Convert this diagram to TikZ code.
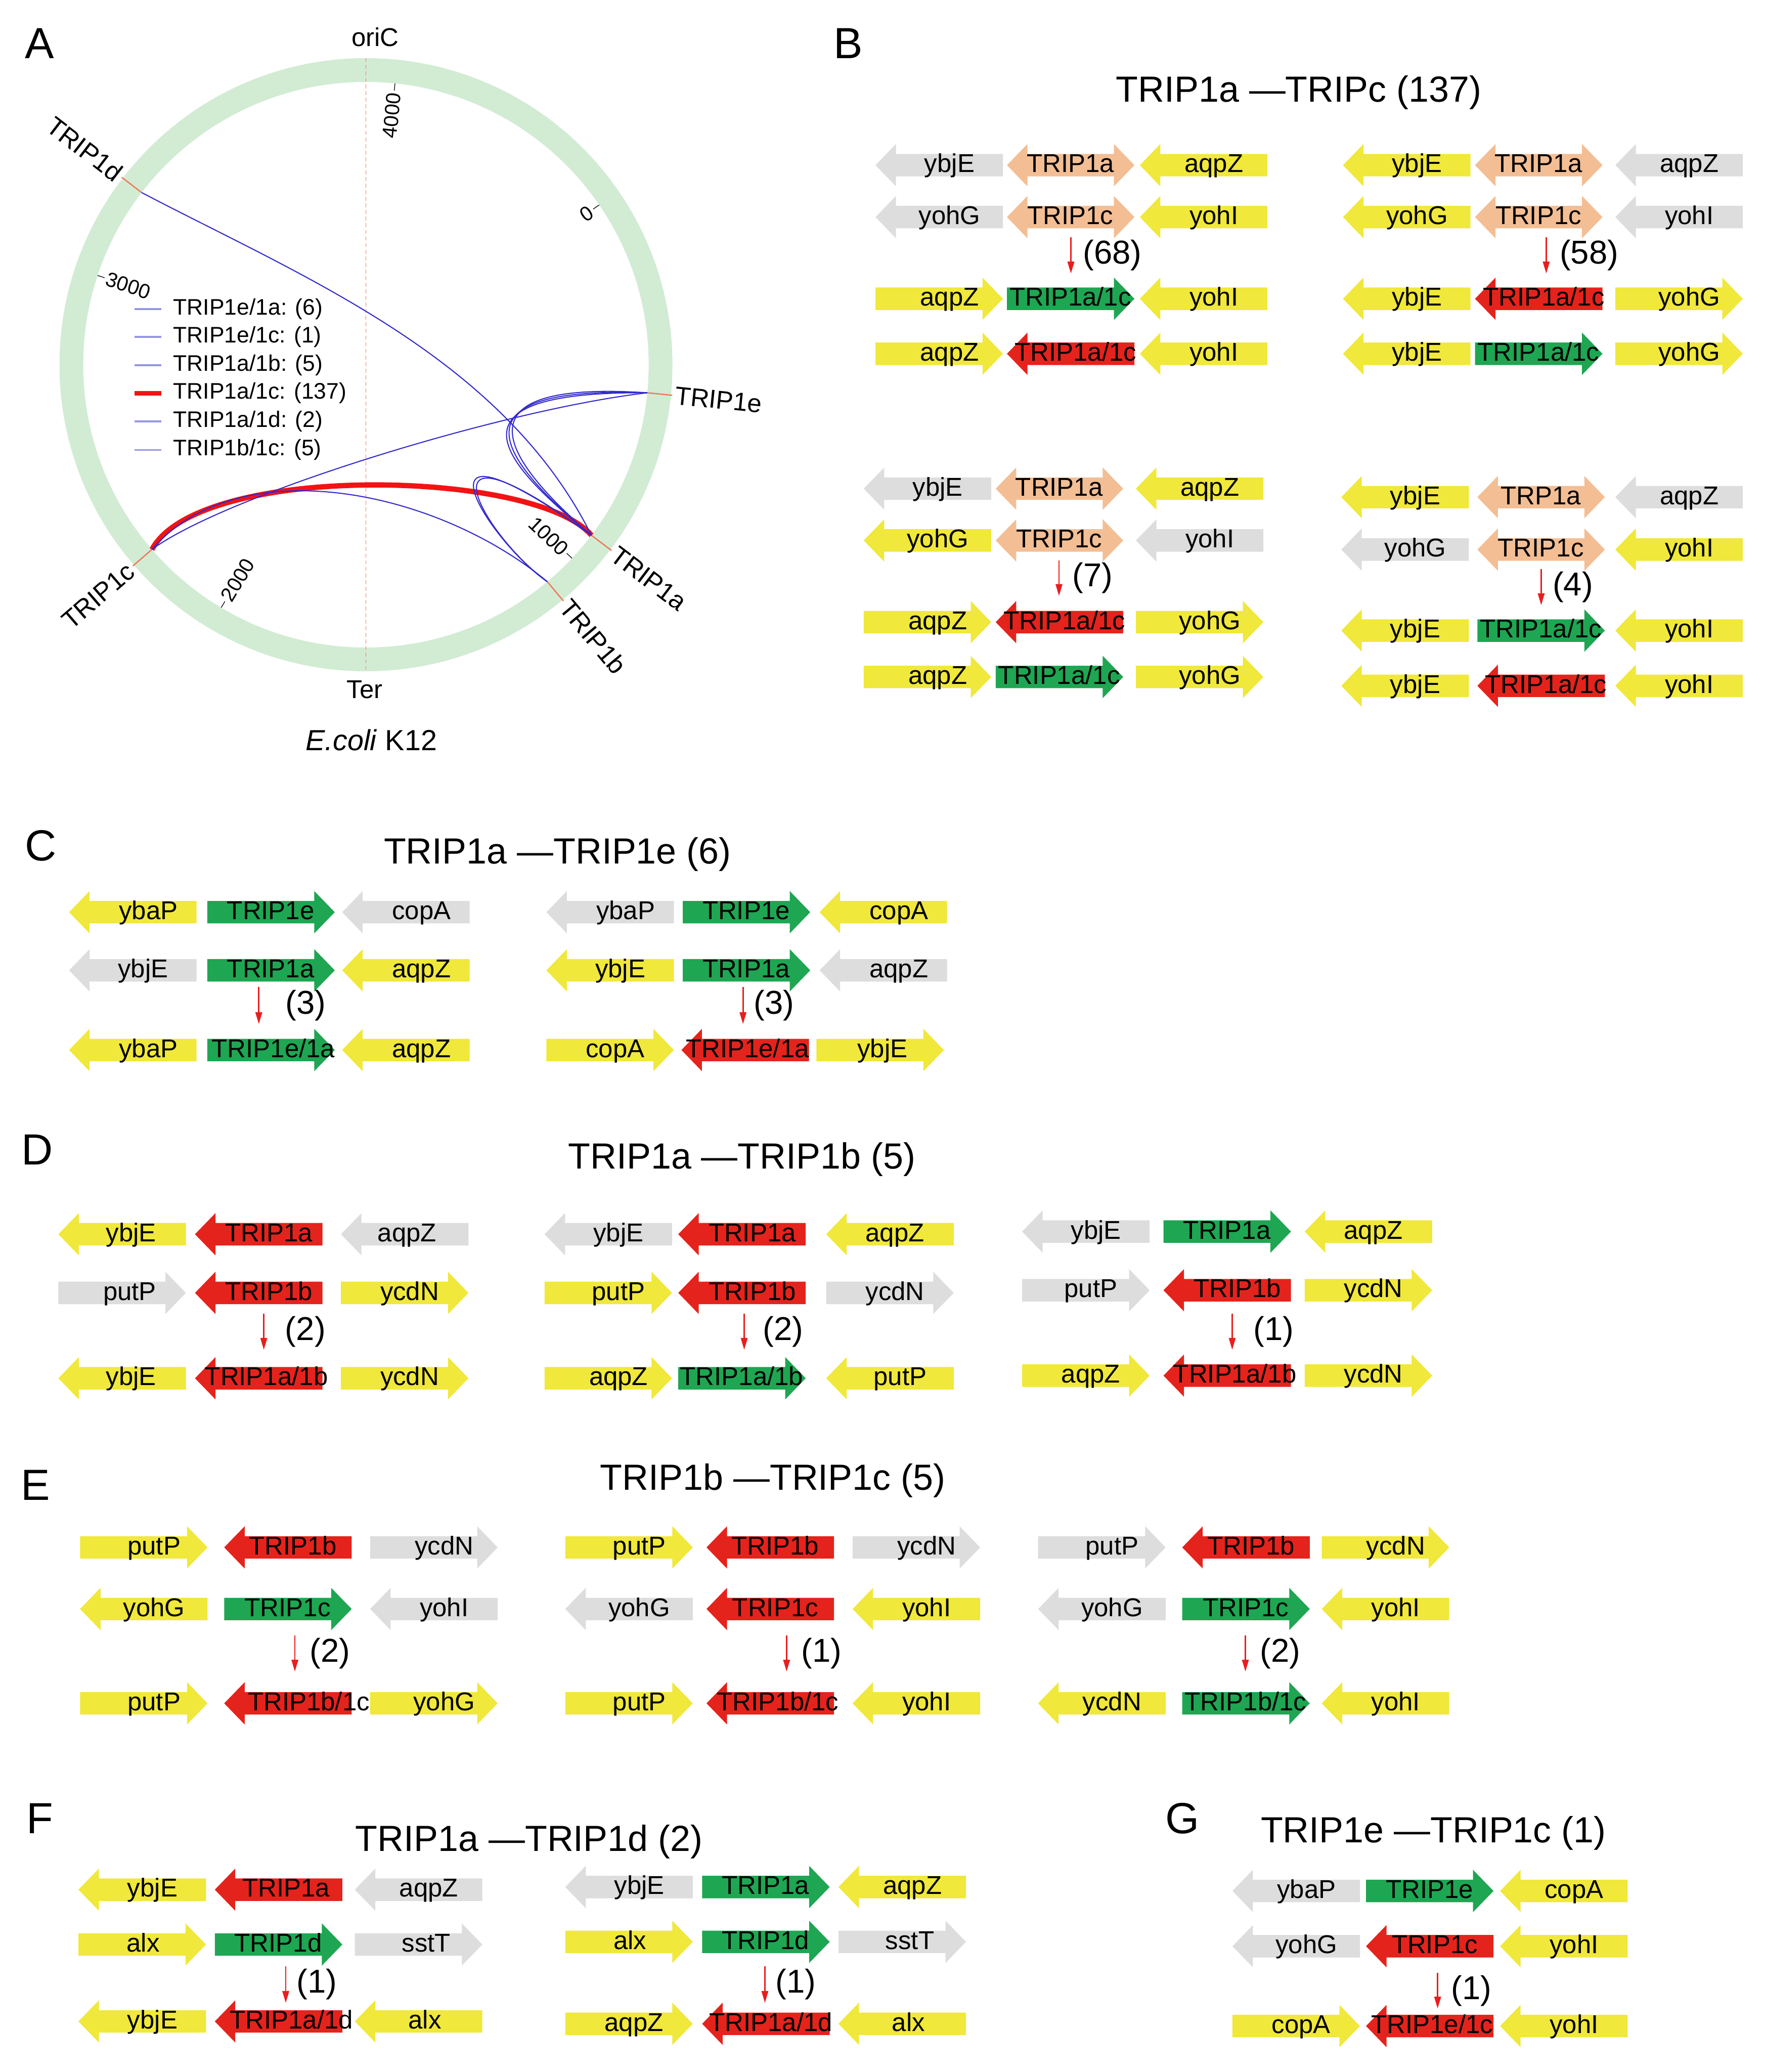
\documentclass[tikz,border=0pt]{standalone}
\usepackage{fontspec}
\setmainfont{Liberation Sans}
\usetikzlibrary{arrows.meta}
\definecolor{geneyel}{RGB}{240,232,58}
\definecolor{genegry}{RGB}{221,221,221}
\definecolor{geneorg}{RGB}{243,190,148}
\definecolor{genegrn}{RGB}{30,166,82}
\definecolor{genered}{RGB}{228,35,28}
\definecolor{ringgrn}{RGB}{210,236,212}
\definecolor{tickorg}{RGB}{238,125,95}
\definecolor{chordblu}{RGB}{50,40,205}
\definecolor{legblu}{RGB}{150,150,228}
\definecolor{hotred}{RGB}{240,20,20}
\definecolor{recred}{RGB}{232,30,30}
\tikzset{
  gyel/.style    = {fill=geneyel},
  ggry/.style    = {fill=genegry},
  gorg/.style    = {fill=geneorg},
  ggrn/.style    = {fill=genegrn},
  gred/.style    = {fill=genered},
  glabel/.style  = {inner sep=0pt, anchor=base, font=\fontsize{19.5}{21}\selectfont},
  cnt/.style     = {inner sep=0pt, anchor=west, font=\fontsize{25}{27}\selectfont},
  recarr/.style  = {draw=recred, line width=1.1pt, -{Triangle[length=9pt,width=5pt]}},
  ttl/.style     = {inner sep=0pt, anchor=base, font=\fontsize{27.5}{30}\selectfont},
  panel/.style   = {inner sep=0pt, font=\fontsize{33}{36}\selectfont},
  ring/.style    = {draw=ringgrn, line width=18pt},
  oriter/.style  = {draw=tickorg, line width=0.6pt, dash pattern=on 3pt off 2pt},
  locus/.style   = {draw=tickorg, line width=1pt},
  locname/.style = {inner sep=0pt, font=\fontsize{19.5}{21}\selectfont},
  ticklab/.style = {inner sep=0pt, font=\fontsize{15.5}{17}\selectfont},
  tickln/.style  = {draw=black, line width=0.5pt},
  chord/.style   = {draw=chordblu, line width=0.8pt},
  hotchord/.style= {draw=hotred, line width=4pt},
  legline/.style = {draw=legblu, line width=1.5pt},
  legtext/.style = {inner sep=0pt, anchor=west, font=\fontsize{17}{19}\selectfont},
}
\newcounter{gn}
\newcounter{rc}
% gene arrow: x, y, L/R/B, fill, label offset, label
\newcommand{\gene}[6]{%
  \stepcounter{gn}%
  \if#3L\fill[#4] (#1,-#2) -- ++(15.5,16) -- ++(0,-7.5) -- ++(81,0) -- ++(0,-17)
    -- ++(-81,0) -- ++(0,-7.5) -- cycle;\fi
  \if#3R\fill[#4] (#1,-#2) ++(0,8.5) -- ++(81,0) -- ++(0,7.5) -- ++(15.5,-16)
    -- ++(-15.5,-16) -- ++(0,7.5) -- ++(-81,0) -- cycle;\fi
  \if#3B\fill[#4] (#1,-#2) -- ++(15.5,16) -- ++(0,-7.5) -- ++(65.5,0) -- ++(0,7.5)
    -- ++(15.5,-16) -- ++(-15.5,-16) -- ++(0,7.5) -- ++(-65.5,0) -- ++(0,-7.5) -- cycle;\fi
  \node[glabel] (g\arabic{gn}) at ({#1+#5},{-#2-5.5}) {#6};
}
\newcommand{\setslots}[3]{\def\slotA{#1}\def\slotB{#2}\def\slotC{#3}}
\newcommand{\generow}[4]{\gene{\slotA}{#1}#2\gene{\slotB}{#1}#3\gene{\slotC}{#1}#4}
% recombination arrow: x, top, bottom, gap, count
\newcommand{\recomb}[5]{%
  \stepcounter{rc}%
  \coordinate (r\arabic{rc}s) at (#1,-#2);
  \coordinate (r\arabic{rc}e) at (#1,-#3);
  \draw[recarr] (r\arabic{rc}s) -- (r\arabic{rc}e);
  \node[cnt] (r\arabic{rc}n) at ({#1+#4},{-(#2+#3)/2}) {#5};
}

\begin{document}
\begin{tikzpicture}[x=1pt, y=1pt]
  \fill[white] (0,0) rectangle (1336,-1568);
  \useasboundingbox (0,0) rectangle (1336,-1568);

  % panel letters
  \node[panel] (pa) at (30,-33)   {A};
  \node[panel] (pb) at (642,-33)  {B};
  \node[panel] (pc) at (31,-640)  {C};
  \node[panel] (pd) at (28,-870)  {D};
  \node[panel] (pe) at (27,-1124) {E};
  \node[panel] (pf) at (30,-1376) {F};
  \node[panel] (pg) at (895,-1376){G};

  % ---- A: genome circle
  \begin{scope}[shift={(277,-276)}]
    \draw[ring] (0,0) circle[radius=223pt];
    \draw[oriter] (0,232) -- (0,-232);
    \foreach \n/\a in {1a/-37.1, 1b/-50.1, 1c/220.8, 1d/142.5, 1e/-5.7}{
      \coordinate (p\n) at (\a:214);
      \draw[locus] (p\n) -- (\a:233);
    }
    \node[locname, anchor=west, rotate=-5.7]  (n1e) at (-5.7:235)  {TRIP1e};
    \node[locname, anchor=west, rotate=-37.1] (n1a) at (-37.1:235) {TRIP1a};
    \node[locname, anchor=west, rotate=-50.1] (n1b) at (-50.1:235) {TRIP1b};
    \node[locname, anchor=east, rotate=40.8]  (n1c) at (220.8:235) {TRIP1c};
    \node[locname, anchor=east, rotate=-37.5] (n1d) at (142.5:235) {TRIP1d};
    % kb ticks
    \foreach \a in {34.4, -43.2, -120.8, 161.6, 84.1}
      \draw[tickln] (\a:208.5) -- (\a:214);
    \foreach \a/\t in {34.4/0, -43.2/1000, 84.1/4000}
      \node[ticklab, anchor=east, rotate=\a] (t\t) at (\a:207) {\t};
    \foreach \a/\t in {-120.8/2000, 161.6/3000}
      \node[ticklab, anchor=west, rotate=\a+180] (t\t) at (\a:207) {\t};
    % links
    \draw[hotchord] (p1c) .. controls (-127,-74) and (128,-79) .. (p1a);
    \draw[chord] (p1c) .. controls (-107,-99) and (103,-34) .. (p1e);
    \draw[chord] (p1c) .. controls (-97,-64) and (53,-94) .. (p1b);
    \draw[chord] (p1d) .. controls (-47,66) and (103,6) .. (p1a);
    \draw[chord] (p1e) .. controls (63,-16) and (98,-69) .. (p1a);
    \draw[chord] (p1e) .. controls (73,-12) and (95,-64) .. (p1a);
    \draw[chord] (p1e) .. controls (53,-20) and (103,-74) .. (p1a);
    \draw[chord] (p1a) .. controls (23,-24) and (93,-134) .. (p1b);
    \draw[chord] (p1a) .. controls (33,-29) and (88,-129) .. (p1b);
  \end{scope}
  \node[locname] (ori) at (284,-28)  {oriC};
  \node[locname] (ter) at (276,-522) {Ter};
  \node[inner sep=0pt, font=\fontsize{22}{24}\selectfont] (eco) at (281,-560) {\textit{E.coli} K12};

  % legend
  \draw[legline] (102,-234) -- (122,-234);
  \node[legtext] (lg1) at (131,-234) {TRIP1e/1a: (6)};
  \draw[legline] (102,-255) -- (122,-255);
  \node[legtext] (lg2) at (131,-255) {TRIP1e/1c: (1)};
  \draw[legline] (102,-276.5) -- (122,-276.5);
  \node[legtext] (lg3) at (131,-276.5) {TRIP1a/1b: (5)};
  \draw[legline, draw=hotred, line width=3.5pt] (102,-297.5) -- (122,-297.5);
  \node[legtext] (lg4) at (131,-297.5) {TRIP1a/1c: (137)};
  \draw[legline] (102,-319) -- (122,-319);
  \node[legtext] (lg5) at (131,-319) {TRIP1a/1d: (2)};
  \draw[legline] (102,-340.5) -- (122,-340.5);
  \node[legtext] (lg6) at (131,-340.5) {TRIP1b/1c: (5)};

  % ---- B
  \node[ttl] (tb) at (983,-77) {TRIP1a —TRIPc (137)};
  \setslots{662.7}{762.2}{862.8}
  \generow{125}{{L}{ggry}{56}{ybjE}}{{B}{gorg}{48}{TRIP1a}}{{L}{gyel}{56}{aqpZ}}
  \generow{164.3}{{L}{ggry}{56}{yohG}}{{B}{gorg}{48}{TRIP1c}}{{L}{gyel}{56}{yohI}}
  \recomb{810.6}{179.5}{207}{9}{(68)}
  \generow{226.1}{{R}{gyel}{56}{aqpZ}}{{R}{ggrn}{48}{TRIP1a/1c}}{{L}{gyel}{56}{yohI}}
  \generow{267.7}{{R}{gyel}{56}{aqpZ}}{{L}{gred}{52}{TRIP1a/1c}}{{L}{gyel}{56}{yohI}}

  \setslots{1016.6}{1116.5}{1222.7}
  \generow{125}{{L}{gyel}{56}{ybjE}}{{B}{gorg}{48}{TRIP1a}}{{L}{ggry}{56}{aqpZ}}
  \generow{164.3}{{L}{gyel}{56}{yohG}}{{B}{gorg}{48}{TRIP1c}}{{L}{ggry}{56}{yohI}}
  \recomb{1170.4}{179.5}{207}{10}{(58)}
  \generow{226.1}{{L}{gyel}{56}{ybjE}}{{L}{gred}{52}{TRIP1a/1c}}{{R}{gyel}{56}{yohG}}
  \generow{267.7}{{L}{gyel}{56}{ybjE}}{{R}{ggrn}{48}{TRIP1a/1c}}{{R}{gyel}{56}{yohG}}

  \setslots{653.8}{753.7}{859.8}
  \generow{369.8}{{L}{ggry}{56}{ybjE}}{{B}{gorg}{48}{TRIP1a}}{{L}{gyel}{56}{aqpZ}}
  \generow{409}{{L}{gyel}{56}{yohG}}{{B}{gorg}{48}{TRIP1c}}{{L}{ggry}{56}{yohI}}
  \recomb{801.6}{424}{451}{10}{(7)}
  \generow{470.8}{{R}{gyel}{56}{aqpZ}}{{L}{gred}{52}{TRIP1a/1c}}{{R}{gyel}{56}{yohG}}
  \generow{512.3}{{R}{gyel}{56}{aqpZ}}{{R}{ggrn}{48}{TRIP1a/1c}}{{R}{gyel}{56}{yohG}}

  \setslots{1015.3}{1118.3}{1222.7}
  \generow{376.2}{{L}{gyel}{56}{ybjE}}{{B}{gorg}{48}{TRP1a}}{{L}{ggry}{56}{aqpZ}}
  \generow{415.9}{{L}{ggry}{56}{yohG}}{{B}{gorg}{48}{TRIP1c}}{{L}{gyel}{56}{yohI}}
  \recomb{1166.6}{430.5}{458}{8.5}{(4)}
  \generow{477.2}{{L}{gyel}{56}{ybjE}}{{R}{ggrn}{48}{TRIP1a/1c}}{{L}{gyel}{56}{yohI}}
  \generow{519}{{L}{gyel}{56}{ybjE}}{{L}{gred}{52}{TRIP1a/1c}}{{L}{gyel}{56}{yohI}}

  % ---- C
  \node[ttl] (tc) at (422,-653.6) {TRIP1a —TRIP1e (6)};
  \setslots{52.3}{156.9}{259}
  \generow{690.3}{{L}{gyel}{60}{ybaP}}{{R}{ggrn}{48}{TRIP1e}}{{L}{ggry}{60}{copA}}
  \generow{734.3}{{L}{ggry}{56}{ybjE}}{{R}{ggrn}{48}{TRIP1a}}{{L}{gyel}{60}{aqpZ}}
  \recomb{195.9}{747}{775}{20}{(3)}
  \generow{794.6}{{L}{gyel}{60}{ybaP}}{{R}{ggrn}{50}{TRIP1e/1a}}{{L}{gyel}{60}{aqpZ}}

  \setslots{413.6}{516.8}{620.4}
  \generow{690.3}{{L}{ggry}{60}{ybaP}}{{R}{ggrn}{48}{TRIP1e}}{{L}{gyel}{60}{copA}}
  \generow{734.3}{{L}{gyel}{56}{ybjE}}{{R}{ggrn}{48}{TRIP1a}}{{L}{ggry}{60}{aqpZ}}
  \recomb{562.4}{747}{775}{8}{(3)}
  \setslots{413.6}{515.8}{618}
  \generow{794.6}{{R}{gyel}{52}{copA}}{{L}{gred}{50}{TRIP1e/1a}}{{R}{gyel}{50}{ybjE}}

  % ---- D
  \node[ttl] (td) at (561.5,-884.3) {TRIP1a —TRIP1b (5)};
  \setslots{44.2}{147.6}{258.1}
  \generow{934}{{L}{gyel}{55}{ybjE}}{{L}{gred}{56}{TRIP1a}}{{L}{ggry}{50}{aqpZ}}
  \generow{978.4}{{R}{ggry}{54}{putP}}{{L}{gred}{56}{TRIP1b}}{{R}{gyel}{52}{ycdN}}
  \recomb{199.7}{994}{1021.5}{16}{(2)}
  \generow{1043}{{L}{gyel}{55}{ybjE}}{{L}{gred}{54}{TRIP1a/1b}}{{R}{gyel}{52}{ycdN}}

  \setslots{412.2}{513.4}{625.4}
  \generow{934}{{L}{ggry}{56}{ybjE}}{{L}{gred}{56}{TRIP1a}}{{L}{gyel}{52}{aqpZ}}
  \generow{978.4}{{R}{gyel}{56}{putP}}{{L}{gred}{56}{TRIP1b}}{{R}{ggry}{52}{ycdN}}
  \recomb{563.3}{994}{1021.5}{14}{(2)}
  \generow{1043}{{R}{gyel}{56}{aqpZ}}{{R}{ggrn}{48}{TRIP1a/1b}}{{L}{gyel}{56}{putP}}

  \setslots{773.7}{880.7}{987.6}
  \generow{932}{{L}{ggry}{56}{ybjE}}{{R}{ggrn}{48}{TRIP1a}}{{L}{gyel}{52}{aqpZ}}
  \generow{976.4}{{R}{ggry}{52}{putP}}{{L}{gred}{56}{TRIP1b}}{{R}{gyel}{52}{ycdN}}
  \recomb{932.7}{994}{1021.5}{16}{(1)}
  \generow{1041}{{R}{gyel}{52}{aqpZ}}{{L}{gred}{54}{TRIP1a/1b}}{{R}{gyel}{52}{ycdN}}

  % ---- E
  \node[ttl] (te) at (585,-1127.5) {TRIP1b —TRIP1c (5)};
  \setslots{60.6}{169.7}{280.2}
  \generow{1171}{{R}{gyel}{56}{putP}}{{L}{gred}{52}{TRIP1b}}{{R}{ggry}{56}{ycdN}}
  \generow{1217.6}{{L}{gyel}{56}{yohG}}{{R}{ggrn}{48}{TRIP1c}}{{L}{ggry}{56}{yohI}}
  \recomb{223.2}{1237.5}{1265}{11}{(2)}
  \generow{1289}{{R}{gyel}{56}{putP}}{{L}{gred}{64}{TRIP1b/1c}}{{R}{gyel}{56}{yohG}}

  \setslots{427.9}{534.8}{645.4}
  \generow{1171}{{R}{gyel}{56}{putP}}{{L}{gred}{52}{TRIP1b}}{{R}{ggry}{56}{ycdN}}
  \generow{1217.6}{{L}{ggry}{56}{yohG}}{{L}{gred}{52}{TRIP1c}}{{L}{gyel}{56}{yohI}}
  \recomb{595.4}{1237.5}{1265}{11}{(1)}
  \generow{1289}{{R}{gyel}{56}{putP}}{{L}{gred}{54}{TRIP1b/1c}}{{L}{gyel}{56}{yohI}}

  \setslots{785.8}{894.9}{1000.5}
  \generow{1171}{{R}{ggry}{56}{putP}}{{L}{gred}{52}{TRIP1b}}{{R}{gyel}{56}{ycdN}}
  \generow{1217.6}{{L}{ggry}{56}{yohG}}{{R}{ggrn}{48}{TRIP1c}}{{L}{gyel}{56}{yohI}}
  \recomb{942.7}{1237.5}{1265}{11}{(2)}
  \generow{1289}{{L}{gyel}{56}{ycdN}}{{R}{ggrn}{48}{TRIP1b/1c}}{{L}{gyel}{56}{yohI}}

  % ---- F
  \node[ttl] (tf) at (400.5,-1400.8) {TRIP1a —TRIP1d (2)};
  \setslots{59.4}{162.6}{268.6}
  \generow{1430}{{L}{gyel}{56}{ybjE}}{{L}{gred}{54}{TRIP1a}}{{L}{ggry}{56}{aqpZ}}
  \generow{1471.5}{{R}{gyel}{49}{alx}}{{R}{ggrn}{48}{TRIP1d}}{{R}{ggry}{54}{sstT}}
  \recomb{216.3}{1487.8}{1515.7}{8}{(1)}
  \generow{1529.7}{{L}{gyel}{56}{ybjE}}{{L}{gred}{58}{TRIP1a/1d}}{{L}{gyel}{53}{alx}}

  \setslots{427.9}{531.5}{634.7}
  \generow{1428}{{L}{ggry}{56}{ybjE}}{{R}{ggrn}{48}{TRIP1a}}{{L}{gyel}{56}{aqpZ}}
  \generow{1469.5}{{R}{gyel}{49}{alx}}{{R}{ggrn}{48}{TRIP1d}}{{R}{ggry}{54}{sstT}}
  \recomb{579}{1487.8}{1515.7}{8}{(1)}
  \generow{1531.5}{{R}{gyel}{52}{aqpZ}}{{L}{gred}{52}{TRIP1a/1d}}{{L}{gyel}{53}{alx}}

  % ---- G
  \node[ttl] (tg) at (1085,-1394.5) {TRIP1e —TRIP1c (1)};
  \setslots{932.9}{1034}{1135.5}
  \generow{1431}{{L}{ggry}{56}{ybaP}}{{R}{ggrn}{48}{TRIP1e}}{{L}{gyel}{56}{copA}}
  \generow{1472.8}{{L}{ggry}{56}{yohG}}{{L}{gred}{52}{TRIP1c}}{{L}{gyel}{56}{yohI}}
  \recomb{1088.2}{1493}{1520}{10}{(1)}
  \generow{1533.2}{{R}{gyel}{52}{copA}}{{L}{gred}{50}{TRIP1e/1c}}{{L}{gyel}{56}{yohI}}
\end{tikzpicture}
\end{document}
